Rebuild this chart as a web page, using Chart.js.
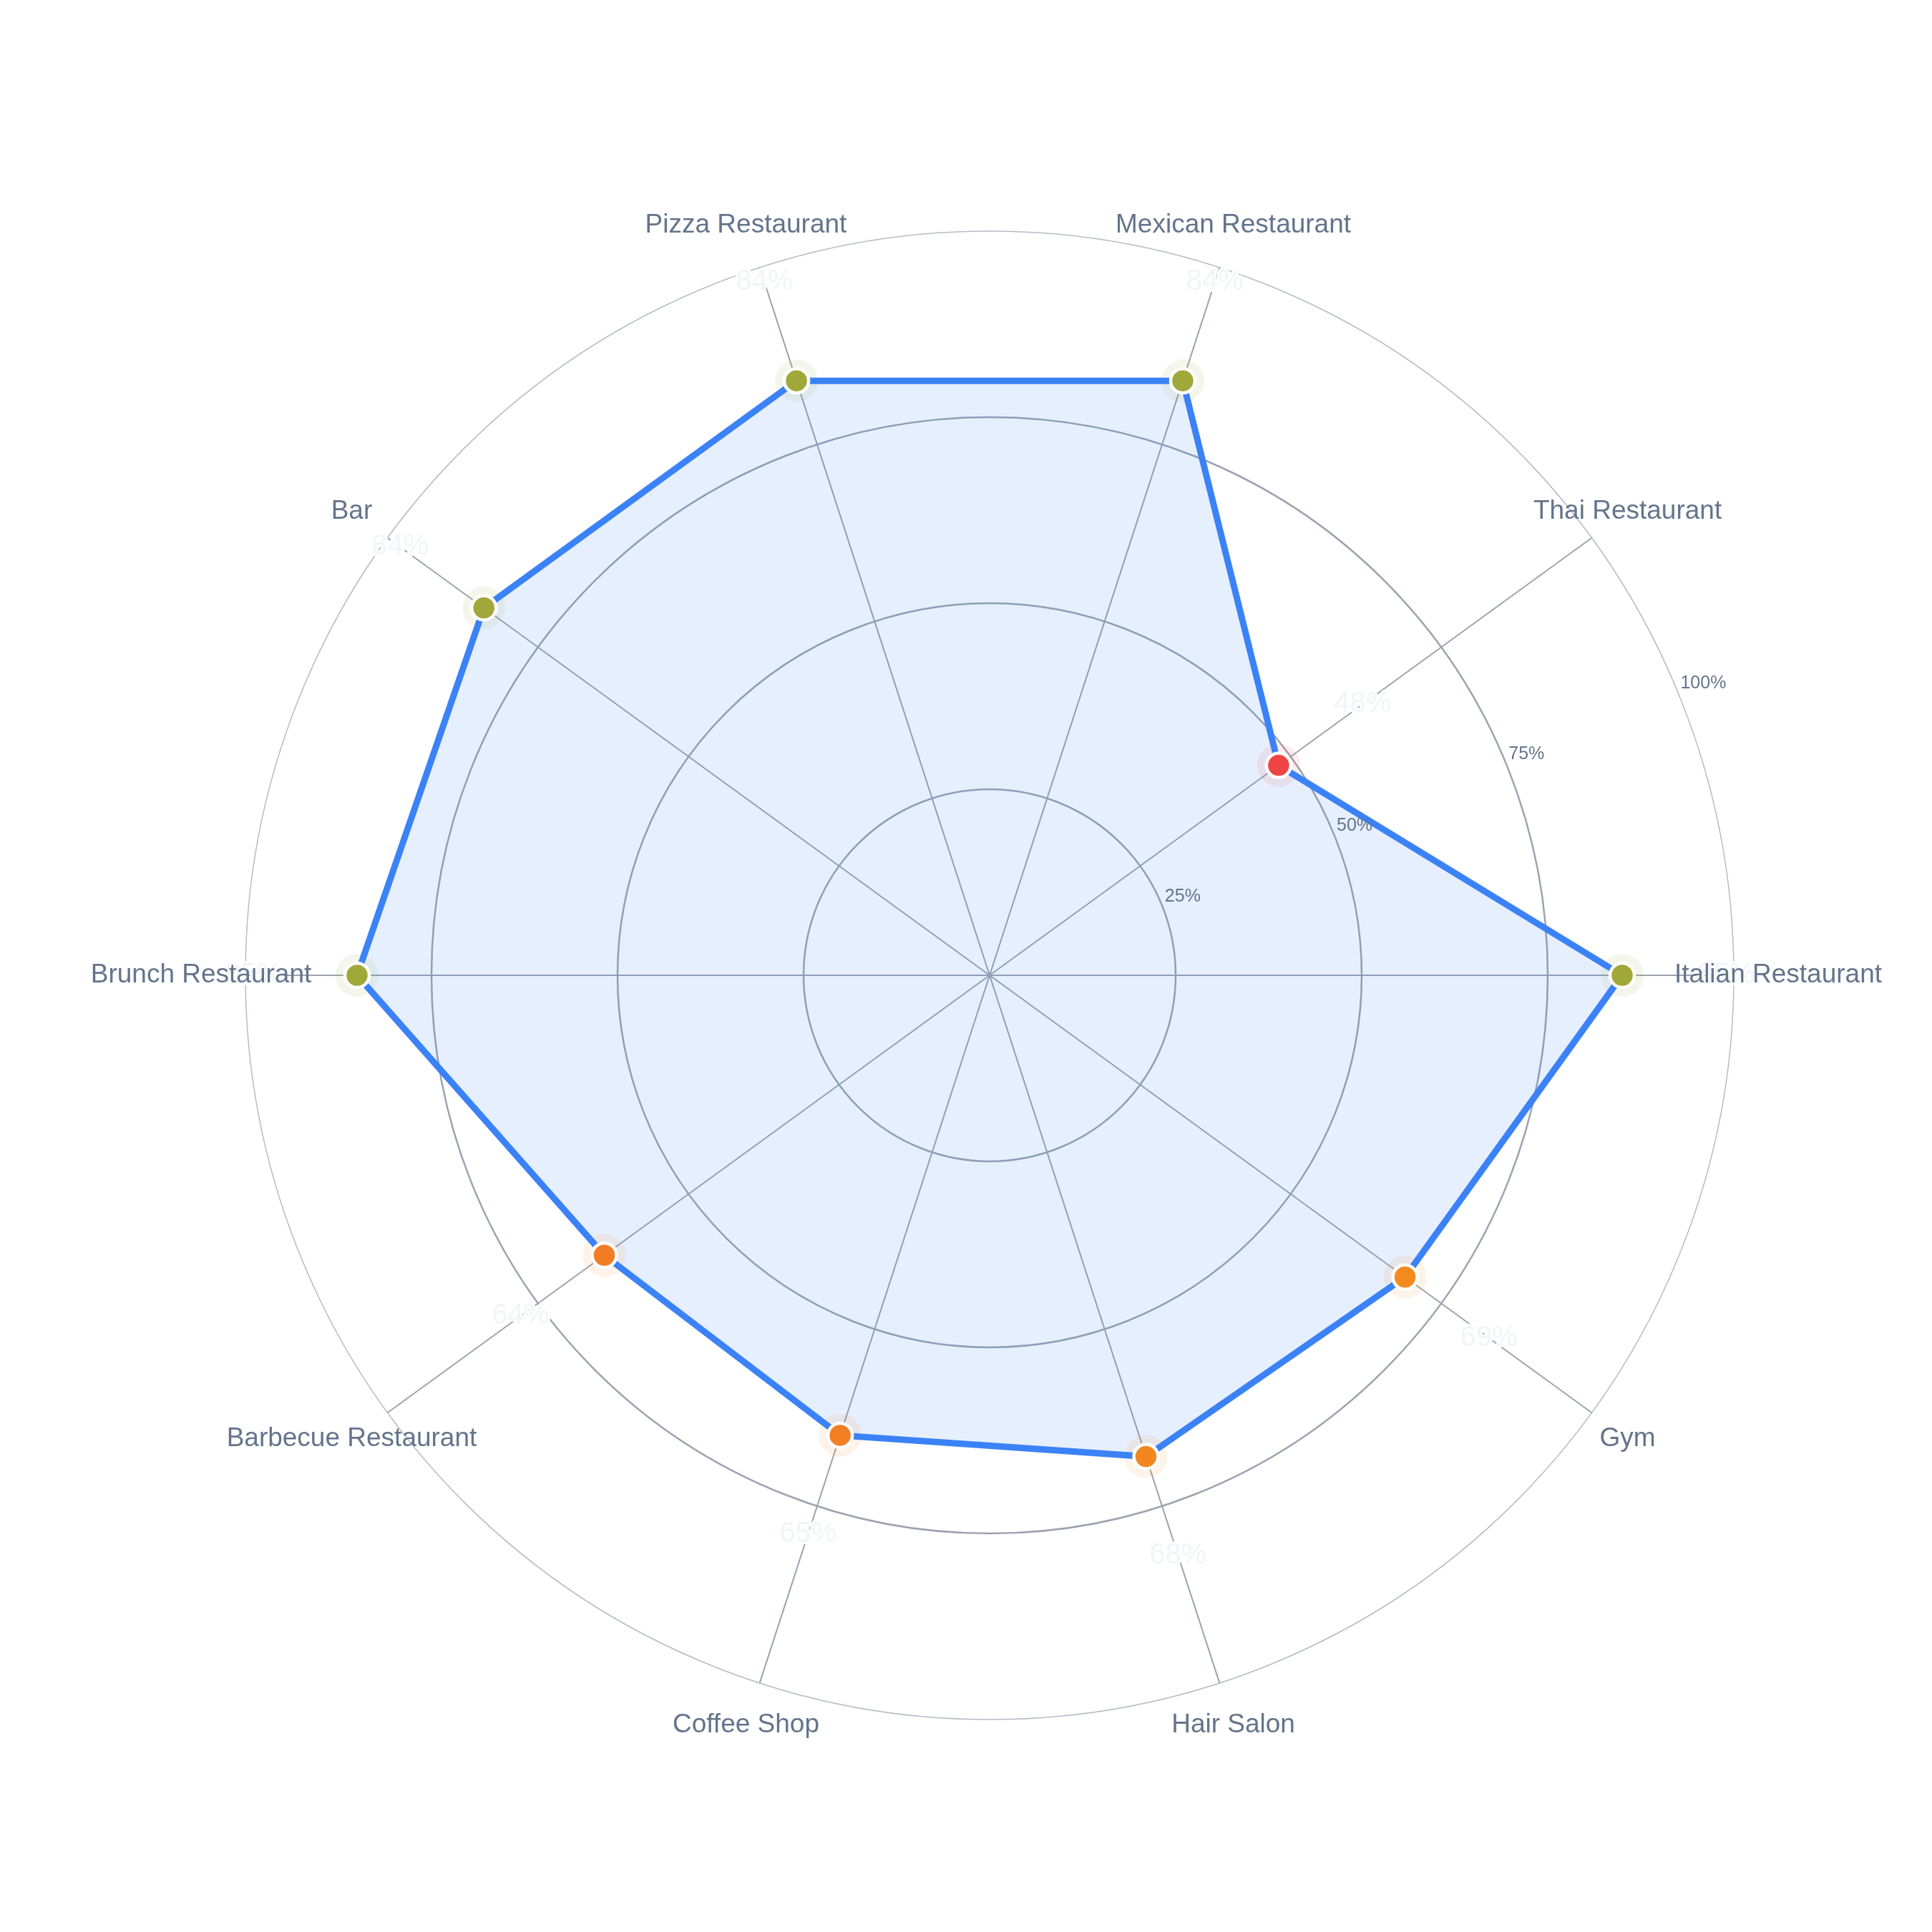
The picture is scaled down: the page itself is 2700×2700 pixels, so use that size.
<!DOCTYPE html>
<html>
<head>
<meta charset="utf-8">
<script src="https://cdn.jsdelivr.net/npm/chart.js@4/dist/chart.umd.min.js"></script>
<style>
  html, body { margin: 0; padding: 0; background: #fff; }
  #wrap { width: 2700px; height: 2700px; position: relative; }
</style>
</head>
<body>
<div id="wrap"><canvas id="radarChart"></canvas></div>
<script>
// categories listed clockwise starting from the right-hand axis
const categories = ['Italian Restaurant', 'Gym', 'Hair Salon', 'Coffee Shop', 'Barbecue Restaurant',
  'Brunch Restaurant', 'Bar', 'Pizza Restaurant', 'Mexican Restaurant', 'Thai Restaurant'];
const scores = [85, 69, 68, 65, 64, 85, 84, 84, 84, 48];
const tickValues = [25, 50, 75, 100];
const tickLabels = ['25%', '50%', '75%', '100%'];

const FONT = '"Liberation Sans", Arial, Helvetica, sans-serif';

// marker colour from the score
function scoreColor(v, alpha) {
  let rgb;
  if (v >= 80) rgb = [160, 168, 58];
  else if (v >= 55) {
    const t = Math.max(0, Math.min(1, (v - 60) / 15));
    rgb = [239 + 8 * t, 113 + 41 * t, 41 - 19 * t].map(Math.round);
  } else rgb = [239, 68, 68];
  return alpha === undefined ? `rgb(${rgb})` : `rgba(${rgb},${alpha})`;
}

const textPlugin = {
  id: 'radarText',
  afterDatasetsDraw(chart) {
    const scale = chart.scales.r;
    const ctx = chart.ctx;
    ctx.save();
    ctx.textAlign = 'center';
    ctx.textBaseline = 'middle';
    ctx.lineJoin = 'round';

    // faint value labels just outside each point
    ctx.font = '40px ' + FONT;
    scores.forEach((v, i) => {
      const p = scale.getPointPosition(i, scale.getDistanceFromCenterForValue(v) + 145);
      ctx.strokeStyle = '#ffffff';
      ctx.lineWidth = 6;
      ctx.strokeText(v + '%', p.x, p.y);
      ctx.fillStyle = '#f1f5f9';
      ctx.fillText(v + '%', p.x, p.y);
    });

    // category labels
    ctx.font = '37px ' + FONT;
    ctx.fillStyle = '#64748b';
    categories.forEach((c, i) => {
      const p = scale.getPointPosition(i, scale.drawingArea + 62);
      ctx.fillText(c, p.x, p.y);
    });

    // radial tick labels along a slanted ray
    const a = -22.5 * Math.PI / 180;
    ctx.font = '25px ' + FONT;
    ctx.textAlign = 'left';
    tickValues.forEach((t, i) => {
      const d = scale.getDistanceFromCenterForValue(t) + 5;
      ctx.fillText(tickLabels[i], scale.xCenter + d * Math.cos(a), scale.yCenter + d * Math.sin(a) - 8);
    });
    ctx.restore();
  }
};

new Chart(document.getElementById('radarChart').getContext('2d'), {
  type: 'radar',
  data: {
    labels: categories,
    datasets: [{
      label: 'Score',
      data: scores,
      order: 1,
      borderColor: '#3b82f6',
      borderWidth: 9,
      backgroundColor: 'rgba(59,130,246,0.13)',
      fill: true,
      tension: 0,
      pointRadius: 17,
      pointBorderWidth: 4.5,
      pointBorderColor: '#ffffff',
      pointBackgroundColor: scores.map(v => scoreColor(v))
    }, {
      label: 'halo',
      data: scores,
      order: 2,
      showLine: false,
      fill: false,
      backgroundColor: 'rgba(0,0,0,0)',
      borderColor: 'rgba(0,0,0,0)',
      pointRadius: 30,
      pointBorderWidth: 0,
      pointBackgroundColor: scores.map(v => scoreColor(v, 0.1))
    }]
  },
  options: {
    responsive: true,
    maintainAspectRatio: false,
    animation: false,
    events: [],
    layout: { padding: { left: 343, right: 277, top: 323, bottom: 297 } },
    plugins: {
      legend: { display: false },
      tooltip: { enabled: false },
      filler: { drawTime: 'beforeDatasetsDraw' }
    },
    scales: {
      r: {
        startAngle: 90,
        min: 0,
        max: 100,
        ticks: { display: false, stepSize: 25 },
        pointLabels: { display: false },
        grid: {
          circular: true,
          color: c => c.index === 4 ? '#b6bbc3' : '#9ca3af',
          lineWidth: c => c.index === 4 ? 1.5 : 2.5
        },
        angleLines: { color: '#9ca3af', lineWidth: 2 }
      }
    }
  },
  plugins: [textPlugin]
});
</script>
</body>
</html>
